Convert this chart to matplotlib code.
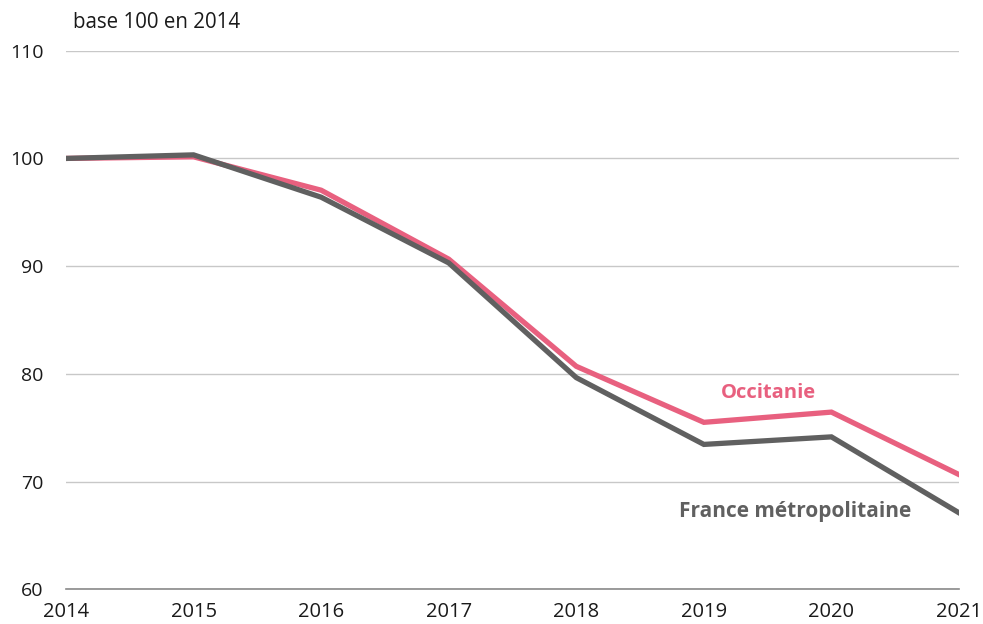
import matplotlib.pyplot as plt

# Index values, base 100 in 2014
years = [2014, 2015, 2016, 2017, 2018, 2019, 2020, 2021]
occitanie = [100.0, 100.15, 97.05, 90.65, 80.7, 75.5, 76.45, 70.65]
france_metro = [100.0, 100.33, 96.4, 90.3, 79.65, 73.45, 74.15, 67.1]

PINK = "#E8607F"
GREY = "#606060"

plt.rcParams["font.family"] = ["Open Sans", "DejaVu Sans"]

fig = plt.figure(figsize=(9.83, 6.24), dpi=100)
ax = fig.add_axes([66 / 983, 1 - 589.3 / 624, (959 - 66) / 983, (589.3 - 50.7) / 624])

ax.plot(years, occitanie, color=PINK, linewidth=3.8, solid_joinstyle="miter", zorder=3)
ax.plot(years, france_metro, color=GREY, linewidth=3.8, solid_joinstyle="miter", zorder=4)

ax.set_xlim(2014, 2021)
ax.set_ylim(60, 110)
ax.set_xticks(years)
ax.set_yticks([60, 70, 80, 90, 100, 110])
ax.grid(axis="y", color="#c8c8c8", linewidth=1)
ax.set_axisbelow(True)

for side in ["top", "right", "left"]:
    ax.spines[side].set_visible(False)
ax.spines["bottom"].set_color("#8a8a8a")
ax.spines["bottom"].set_linewidth(1.2)
ax.spines["bottom"].set_zorder(5)

ax.tick_params(axis="both", length=0, labelsize=14.5, colors="#1a1a1a")
ax.tick_params(axis="y", labelsize=14, pad=16)
ax.tick_params(axis="x", pad=9)

# Series labels (pixel positions, origin at bottom-left)
ax.text(768, 624 - 393, "Occitanie", transform=None, color=PINK, fontsize=14.5,
        fontweight="bold", ha="center", va="center")
ax.text(911, 624 - 512, "France métropolitaine", transform=None, color=GREY, fontsize=15,
        fontweight="bold", ha="right", va="center")

fig.text(73 / 983, 1 - 22 / 624, "base 100 en 2014", fontsize=14.8, color="#1a1a1a",
         ha="left", va="center")

fig.savefig("out.png", dpi=100)
